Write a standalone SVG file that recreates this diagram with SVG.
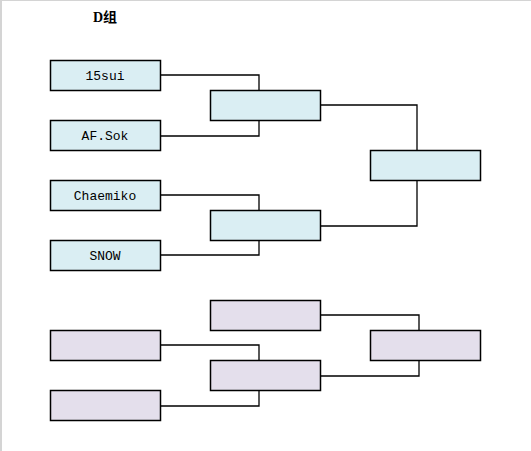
<svg xmlns="http://www.w3.org/2000/svg" width="531" height="451" viewBox="0 0 531 451">
<style>
.b{fill:#DAEEF3;stroke:#000;stroke-width:1.5}
.p{fill:#E4DFEC;stroke:#000;stroke-width:1.5}
.t{font-family:"Liberation Mono","DejaVu Sans Mono",monospace;font-size:13px;fill:#000;text-anchor:middle}
.c{fill:none;stroke:#000;stroke-width:1.3}
</style>
<rect x="0" y="0" width="531" height="451" fill="#fff"/>
<line x1="1" y1="0" x2="1" y2="451" stroke="#d4d4d4" stroke-width="2"/>
<line x1="0" y1="0.5" x2="531" y2="0.5" stroke="#d4d4d4" stroke-width="1"/>
<text x="105" y="22" font-family="'Liberation Serif','Noto Sans CJK SC',serif" font-weight="bold" font-size="14" text-anchor="middle">D组</text>
<g id="connectors">
<polyline class="c" points="160,75 259,75 259,90"/>
<polyline class="c" points="160,136 259,136 259,120"/>
<polyline class="c" points="160,195 259,195 259,210"/>
<polyline class="c" points="160,255 259,255 259,240"/>
<polyline class="c" points="320,105 417,105 417,150"/>
<polyline class="c" points="320,226 417,226 417,180"/>
<polyline class="c" points="320,315 419,315 419,330"/>
<polyline class="c" points="320,376 419,376 419,360"/>
<polyline class="c" points="160,345 259,345 259,360"/>
<polyline class="c" points="160,406 259,406 259,390"/>
</g>
<g id="n1"><rect class="b" x="50.5" y="60.5" width="110" height="30"/><text class="t" x="105" y="80">15sui</text></g>
<g id="n2"><rect class="b" x="50.5" y="120.5" width="110" height="30"/><text class="t" x="105" y="140">AF.Sok</text></g>
<g id="n3"><rect class="b" x="50.5" y="180.5" width="110" height="30"/><text class="t" x="105" y="200">Chaemiko</text></g>
<g id="n4"><rect class="b" x="50.5" y="240.5" width="110" height="30"/><text class="t" x="105" y="260">SNOW</text></g>
<g id="n5"><rect class="b" x="210.5" y="90.5" width="110" height="30"/></g>
<g id="n6"><rect class="b" x="210.5" y="210.5" width="110" height="30"/></g>
<g id="n7"><rect class="b" x="370.5" y="150.5" width="110" height="30"/></g>
<g id="p1"><rect class="p" x="210.5" y="300.5" width="110" height="30"/></g>
<g id="p2"><rect class="p" x="50.5" y="330.5" width="110" height="30"/></g>
<g id="p3"><rect class="p" x="210.5" y="360.5" width="110" height="30"/></g>
<g id="p4"><rect class="p" x="50.5" y="390.5" width="110" height="30"/></g>
<g id="p5"><rect class="p" x="370.5" y="330.5" width="110" height="30"/></g>
</svg>
